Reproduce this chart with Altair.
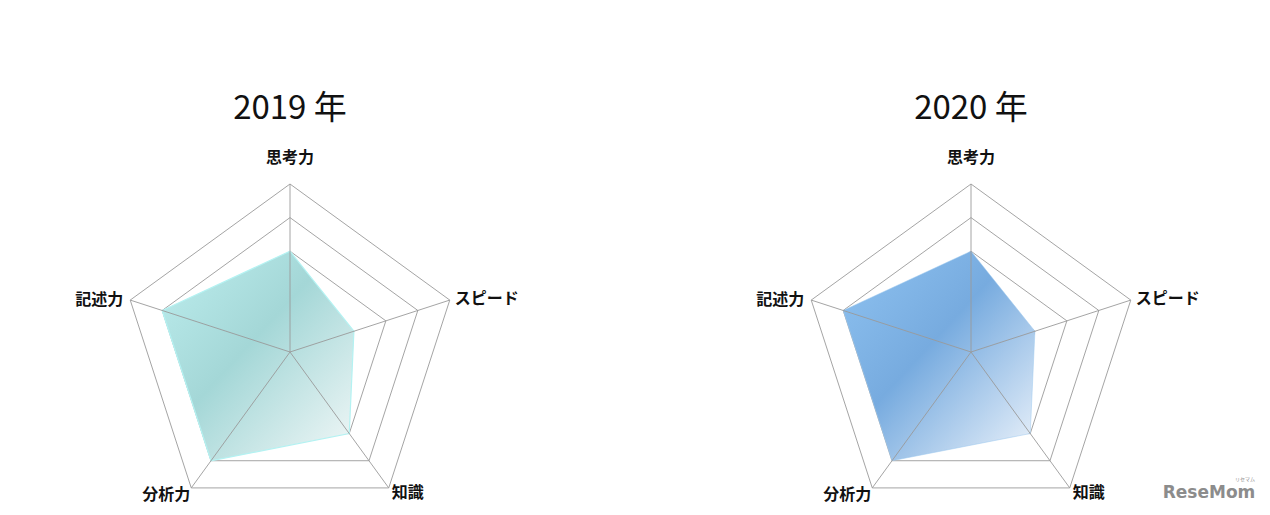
import math
import altair as alt
import pandas as pd

# ---------------- data ----------------
categories = ["思考力", "スピード", "知識", "分析力", "記述力"]
years = ["2019 年", "2020 年"]
values_2019 = [3, 2, 3, 4, 4]
values_2020 = [3, 2, 3, 4, 4]
max_value = 5
grid_levels = [1, 2, 3, 4, 5]
watermark = ["ReseMom", "リセマム"]

# ---------------- layout ----------------
W, H = 1254, 499
CENTERS = {"2019 年": 282, "2020 年": 963}
CY = 344
R = 168

series = {"2019 年": values_2019, "2020 年": values_2020}


def pos(cx, value, i):
    ang = math.radians(90 - 72 * i)
    r = value / max_value * R
    return cx + r * math.cos(ang), CY - r * math.sin(ang)


poly_rows, grid_rows, spoke_rows, label_rows, title_rows = [], [], [], [], []
for y in years:
    cx = CENTERS[y]
    title_rows.append({"year": y, "px": cx, "py": 101})
    for i, (c, v) in enumerate(zip(categories, series[y])):
        px, py = pos(cx, v, i)
        poly_rows.append({"year": y, "cat": c, "idx": i, "px": px, "py": py})
        ox, oy = pos(cx, max_value, i)
        spoke_rows.append({"year": y, "cat": c, "px": cx, "py": CY, "px2": ox, "py2": oy})
        label_rows.append({"year": y, "cat": c, "px": ox, "py": oy})
        for lv in grid_levels:
            gx, gy = pos(cx, lv, i)
            grid_rows.append({"year": y, "level": lv, "idx": i, "px": gx, "py": gy})

poly_df = pd.DataFrame(poly_rows)
grid_df = pd.DataFrame(grid_rows)
spoke_df = pd.DataFrame(spoke_rows)
label_df = pd.DataFrame(label_rows)
title_df = pd.DataFrame(title_rows)

xs = alt.Scale(domain=[0, W], nice=False, zero=False)
ys = alt.Scale(domain=[0, H], reverse=True, nice=False, zero=False)
X = alt.X("px:Q", scale=xs, axis=None)
Y = alt.Y("py:Q", scale=ys, axis=None)

FONT = "Noto Sans CJK JP"

grid = alt.Chart(grid_df).mark_line(
    interpolate="linear-closed", stroke="#9a9a9a", strokeWidth=0.9
).encode(x=X, y=Y, detail="key:N", order="idx:Q").transform_calculate(
    key="datum.year + '-' + datum.level"
)

gradients = {
    "2019 年": alt.Gradient(
        gradient="linear", x1=0, y1=0, x2=1, y2=1,
        stops=[
            alt.GradientStop(color="#bdeeee", offset=0),
            alt.GradientStop(color="#a4d7d7", offset=0.45),
            alt.GradientStop(color="#f3f8f8", offset=1),
        ],
    ),
    "2020 年": alt.Gradient(
        gradient="linear", x1=0, y1=0, x2=1, y2=1,
        stops=[
            alt.GradientStop(color="#8fc3f1", offset=0),
            alt.GradientStop(color="#77abdf", offset=0.45),
            alt.GradientStop(color="#eef4fb", offset=1),
        ],
    ),
}
edge = {"2019 年": "#b4f2f2", "2020 年": "#9cc8ef"}
edge_w = {"2019 年": 1.2, "2020 年": 0.5}

polys = []
for y in years:
    polys.append(
        alt.Chart(poly_df).transform_filter(alt.datum.year == y).mark_line(
            interpolate="linear-closed", fill=gradients[y], stroke=edge[y],
            strokeWidth=edge_w[y], fillOpacity=1
        ).encode(x=X, y=Y, order="idx:Q")
    )

spokes = alt.Chart(spoke_df).mark_rule(stroke="#9a9a9a", strokeWidth=0.9).encode(
    x=X, y=Y, x2="px2:Q", y2="py2:Q"
)

label_style = {
    "思考力": dict(align="center", baseline="bottom", dx=0, dy=-18),
    "スピード": dict(align="left", baseline="middle", dx=5, dy=-1),
    "知識": dict(align="left", baseline="middle", dx=3, dy=5),
    "分析力": dict(align="right", baseline="middle", dx=-1, dy=7),
    "記述力": dict(align="right", baseline="middle", dx=-7, dy=0),
}
labels = []
for c in categories:
    labels.append(
        alt.Chart(label_df).transform_filter(alt.datum.cat == c).mark_text(
            font=FONT, fontSize=16, fontWeight="bold", color="#111111", **label_style[c]
        ).encode(x=X, y=Y, text="cat:N")
    )

titles = alt.Chart(title_df).mark_text(
    font=FONT, fontSize=33, color="#111111", baseline="middle", align="center"
).encode(x=X, y=Y, text="year:N")

wm_df = pd.DataFrame({"t": watermark, "px": [1201, 1237], "py": [485, 471]})
wm_main = alt.Chart(wm_df).transform_filter(alt.datum.t == watermark[0]).mark_text(
    font="DejaVu Sans", fontSize=17, fontWeight="bold", color="#8c8c8c", align="center",
    baseline="middle"
).encode(x=X, y=Y, text="t:N")
wm_small = alt.Chart(wm_df).transform_filter(alt.datum.t == watermark[1]).mark_text(
    font=FONT, fontSize=5, color="#8c8c8c", align="center", baseline="middle"
).encode(x=X, y=Y, text="t:N")

chart = alt.layer(grid, *polys, spokes, *labels, titles, wm_main, wm_small).properties(
    width=W, height=H, padding=0, autosize=alt.AutoSizeParams(type="none"),
    background="white",
).configure_view(stroke=None)

chart.save("out.html", embed_options={"renderer": "svg", "actions": False})
